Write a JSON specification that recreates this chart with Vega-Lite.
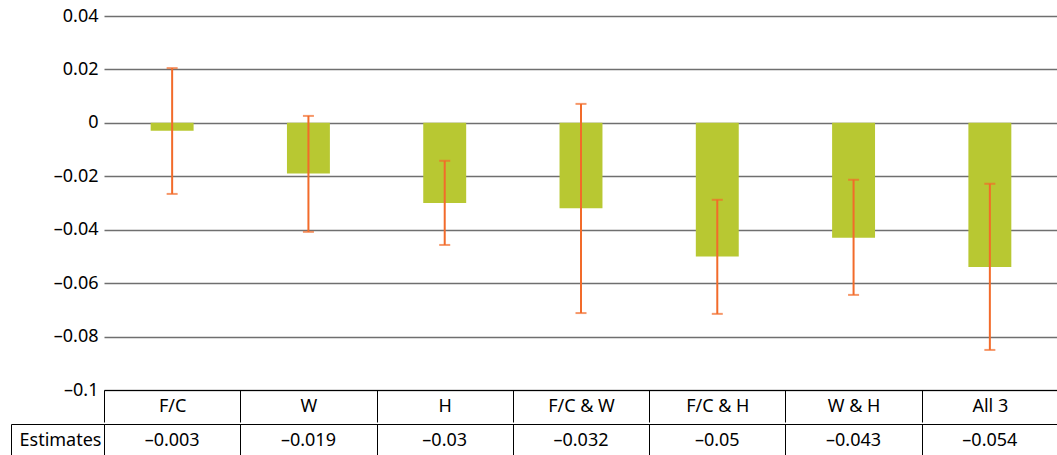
{
  "$schema": "https://vega.github.io/schema/vega-lite/v6.json",
  "background": "white",
  "padding": {"left": 10, "top": 7, "right": 0, "bottom": 0},
  "spacing": -9,
  "config": {
    "font": "Noto Sans",
    "view": {"stroke": null},
    "locale": {"number": {"decimal": ".", "thousands": ",", "grouping": [3], "currency": ["$", ""], "minus": "–"}}
  },
  "data": {
    "values": [
      {"category": "F/C", "estimate": -0.003, "lo": -0.0266, "hi": 0.0205},
      {"category": "W", "estimate": -0.019, "lo": -0.0408, "hi": 0.0026},
      {"category": "H", "estimate": -0.03, "lo": -0.0457, "hi": -0.0142},
      {"category": "F/C & W", "estimate": -0.032, "lo": -0.0712, "hi": 0.0071},
      {"category": "F/C & H", "estimate": -0.05, "lo": -0.0715, "hi": -0.0288},
      {"category": "W & H", "estimate": -0.043, "lo": -0.0644, "hi": -0.0213},
      {"category": "All 3", "estimate": -0.054, "lo": -0.085, "hi": -0.0228}
    ]
  },
  "vconcat": [
    {
      "width": 954,
      "height": 374,
      "encoding": {
        "x": {
          "field": "category", "type": "nominal", "sort": null,
          "scale": {"paddingInner": 0, "paddingOuter": 0},
          "axis": {
            "title": null, "labelAngle": 0, "labelFontSize": 18, "labelColor": "black",
            "tickBand": "extent", "tickSize": 32, "tickColor": "black", "tickWidth": 1,
            "domain": true, "domainColor": "black", "domainWidth": 1,
            "labelPadding": -16, "labelBaseline": "middle"
          }
        }
      },
      "layer": [
        {
          "mark": {"type": "bar", "color": "#b8c832", "width": {"band": 0.315}},
          "encoding": {
            "y": {
              "field": "estimate", "type": "quantitative",
              "scale": {"domain": [-0.1, 0.04], "nice": false, "zero": false},
              "axis": {
                "title": null, "values": [-0.1, -0.08, -0.06, -0.04, -0.02, 0, 0.02, 0.04],
                "format": ".2~f", "labelFontSize": 18, "labelColor": "black", "labelPadding": 6,
                "domain": false, "ticks": false, "grid": true, "gridColor": "#6f6f6f", "gridWidth": 1.3
              }
            }
          }
        },
        {
          "mark": {"type": "rule", "color": "black", "strokeWidth": 1.2},
          "encoding": {"y": {"datum": 0}}
        },
        {
          "mark": {"type": "rule", "color": "#f26b2a", "strokeWidth": 2},
          "encoding": {"y": {"field": "lo", "type": "quantitative"}, "y2": {"field": "hi"}}
        },
        {
          "mark": {"type": "tick", "color": "#f26b2a", "size": 11, "thickness": 2},
          "encoding": {"y": {"field": "lo", "type": "quantitative"}}
        },
        {
          "mark": {"type": "tick", "color": "#f26b2a", "size": 11, "thickness": 2},
          "encoding": {"y": {"field": "hi", "type": "quantitative"}}
        }
      ]
    },
    {
      "width": 954,
      "height": 33,
      "view": {"stroke": "black", "strokeWidth": 1},
      "mark": {"type": "text", "fontSize": 18, "color": "black", "baseline": "middle"},
      "encoding": {
        "x": {
          "field": "category", "type": "nominal", "sort": null,
          "scale": {"paddingInner": 0, "paddingOuter": 0},
          "axis": {
            "title": null, "labels": false, "ticks": false, "domain": false,
            "grid": true, "tickBand": "extent", "gridColor": "black", "gridOpacity": 1, "gridWidth": 1
          }
        },
        "y": {
          "datum": "Estimates", "type": "nominal",
          "scale": {"type": "band", "paddingInner": 0, "paddingOuter": 0},
          "axis": {
            "title": null, "orient": "left", "offset": 93,
            "domain": true, "domainColor": "black", "domainWidth": 1,
            "ticks": true, "tickBand": "extent", "tickSize": -93, "tickColor": "black", "tickWidth": 1,
            "labelPadding": 3, "labelFontSize": 18, "labelColor": "black", "labelBaseline": "middle"
          }
        },
        "text": {"field": "estimate", "type": "quantitative", "format": ".3~f"}
      }
    }
  ]
}
